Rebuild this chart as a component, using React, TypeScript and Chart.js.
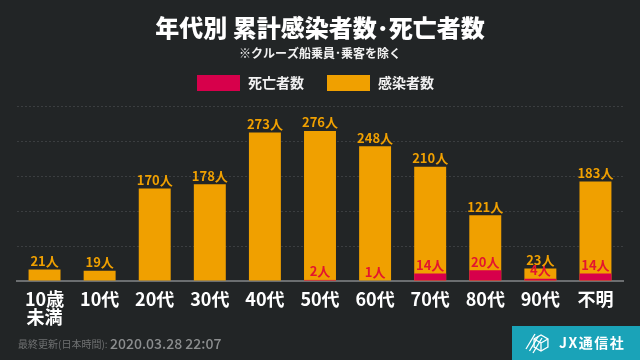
import React, { useEffect, useRef } from "react";
import { Chart, registerables } from "chart.js";

Chart.register(...registerables);

const TITLE = "年代別 累計感染者数･死亡者数";
const SUBTITLE = "※クルーズ船乗員･乗客を除く";
const CATEGORIES: (string | string[])[] = [["10歳", "未満"], "10代", "20代", "30代", "40代", "50代", "60代", "70代", "80代", "90代", "不明"];
const INFECTED = [21, 19, 170, 178, 273, 276, 248, 210, 121, 23, 183];
const DEATHS = [0, 0, 0, 0, 0, 2, 1, 14, 20, 4, 14];
const SERIES_NAMES = ["死亡者数", "感染者数"];
const Y_MAX = 320;
const Y_STEP = 64;
const UNIT = "人";
const FOOTER_LABEL = "最終更新(日本時間):";
const FOOTER_DATE = "2020.03.28 22:07";
const BRAND = "JX通信社";

const FONT = "'Noto Sans CJK JP', 'Noto Sans', sans-serif";
const BG = "#222526";
const ORANGE = "#f0a000";
const CRIMSON = "#d7004b";
const RED_TEXT = "#e3152e";
const TEAL = "#1aa3b8";

const decorPlugin = {
  id: "decor",
  beforeDraw(chart: any) {
    const ctx = chart.ctx;
    ctx.save();
    ctx.fillStyle = BG;
    ctx.fillRect(0, 0, chart.width, chart.height);
    ctx.restore();
  },
  afterDraw(chart: any) {
    const ctx = chart.ctx;
    ctx.save();
    // legend
    const ds = chart.data.datasets;
    ctx.font = `bold 14px ${FONT}`;
    const boxW = 43, boxH = 16, gapText = 8, gapItem = 23;
    const widths = ds.map((d: any) => boxW + gapText + ctx.measureText(d.label).width);
    const total = widths.reduce((a: number, b: number) => a + b, 0) + gapItem * (ds.length - 1);
    let x = 315.5 - total / 2;
    const cy = 83;
    ds.forEach((d: any, i: number) => {
      ctx.fillStyle = d.backgroundColor;
      ctx.fillRect(x, cy - boxH / 2, boxW, boxH);
      ctx.fillStyle = "#f2f2f2";
      ctx.textAlign = "left";
      ctx.textBaseline = "middle";
      ctx.fillText(d.label, x + boxW + gapText, cy);
      x += widths[i] + gapItem;
    });
    // footer
    ctx.fillStyle = "#6f7172";
    ctx.font = `10px ${FONT}`;
    ctx.textAlign = "left";
    ctx.textBaseline = "middle";
    ctx.fillText(FOOTER_LABEL, 18, 344);
    ctx.fillStyle = "#8c8e8f";
    ctx.font = `500 14px ${FONT}`;
    ctx.fillText(FOOTER_DATE, 110, 344);
    // brand block
    ctx.fillStyle = TEAL;
    ctx.fillRect(512, 326, 128, 34);
    ctx.strokeStyle = "#ffffff";
    ctx.lineWidth = 1.3;
    const hx = 541, hy = 343, r = 8;
    ctx.beginPath();
    for (let k = 0; k < 6; k++) {
      const a = Math.PI / 6 + (k * Math.PI) / 3;
      const px = hx + r * Math.cos(a), py = hy + r * Math.sin(a);
      if (k === 0) ctx.moveTo(px, py); else ctx.lineTo(px, py);
    }
    ctx.closePath();
    ctx.stroke();
    ctx.beginPath();
    ctx.moveTo(hx, hy);
    ctx.lineTo(hx - r * Math.cos(Math.PI / 6), hy - r / 2);
    ctx.moveTo(hx, hy);
    ctx.lineTo(hx, hy + r);
    ctx.moveTo(hx, hy);
    ctx.lineTo(hx + r * Math.cos(Math.PI / 6), hy - r / 2);
    ctx.stroke();
    for (let k = 0; k < 3; k++) {
      ctx.beginPath();
      ctx.moveTo(526 + k * 3.5, 349 + k * 2);
      ctx.lineTo(535 + k * 3.5, 334 + k * 2);
      ctx.stroke();
    }
    ctx.fillStyle = "#ffffff";
    ctx.font = `bold 14px ${FONT}`;
    ctx.textAlign = "left";
    ctx.textBaseline = "middle";
    try { (ctx as any).letterSpacing = "1.5px"; } catch (e) {}
    ctx.fillText(BRAND, 559, 343);
    ctx.restore();
  },
  afterDatasetsDraw(chart: any) {
    const ctx = chart.ctx;
    ctx.save();
    ctx.font = `bold 13px ${FONT}`;
    ctx.textAlign = "center";
    ctx.textBaseline = "middle";
    chart.data.datasets.forEach((d: any, di: number) => {
      const meta = chart.getDatasetMeta(di);
      meta.data.forEach((el: any, i: number) => {
        const v = d.data[i];
        if (!v) return;
        ctx.fillStyle = d.labelColor;
        ctx.fillText(`${v}${UNIT}`, el.x, el.y - 8.5);
      });
    });
    ctx.restore();
  },
};

export default function App() {
  const ref = useRef<HTMLCanvasElement>(null);
  useEffect(() => {
    if (!ref.current) return;
    const chart = new Chart(ref.current, {
      type: "bar",
      data: {
        labels: CATEGORIES as any,
        datasets: [
          {
            label: SERIES_NAMES[0],
            data: DEATHS,
            backgroundColor: CRIMSON,
            order: 0,
            grouped: false,
            barPercentage: 0.58,
            categoryPercentage: 1,
            labelColor: RED_TEXT,
          } as any,
          {
            label: SERIES_NAMES[1],
            data: INFECTED,
            backgroundColor: ORANGE,
            order: 1,
            grouped: false,
            barPercentage: 0.58,
            categoryPercentage: 1,
            labelColor: ORANGE,
          } as any,
        ],
      },
      options: {
        responsive: false,
        maintainAspectRatio: false,
        devicePixelRatio: 1,
        animation: false,
        layout: { padding: { top: 0, left: 17, right: 17, bottom: 0 } },
        plugins: {
          legend: { display: false },
          tooltip: { enabled: false },
          title: {
            display: true,
            text: TITLE,
            color: "#ffffff",
            font: { family: FONT, size: 24, weight: 900, lineHeight: 1.2 },
            padding: { top: 13, bottom: 0 },
          },
          subtitle: {
            display: true,
            text: SUBTITLE,
            color: "#f2f2f2",
            font: { family: FONT, size: 12, weight: "bold", lineHeight: 1.2 },
            padding: { top: 4, bottom: 46.8 },
          },
        },
        scales: {
          x: {
            grid: { display: false, drawTicks: false },
            border: { display: true, color: "#6b6e70", width: 2 },
            ticks: {
              color: "#ffffff",
              font: { family: FONT, size: 18, weight: "bold", lineHeight: 1 },
              padding: 9,
              maxRotation: 0,
              autoSkip: false,
            },
            afterFit: (s: any) => {
              s.height = 79;
            },
          },
          y: {
            min: 0,
            max: Y_MAX,
            ticks: { display: false, stepSize: Y_STEP },
            grid: { color: "#3b3e40", lineWidth: 1, drawTicks: false },
            border: { display: false, dash: [2, 2] },
            afterFit: (s: any) => {
              s.width = 0;
            },
          },
        },
      },
      plugins: [decorPlugin],
    });
    return () => chart.destroy();
  }, []);
  return (
    <div style={{ position: "fixed", left: 0, top: 0, width: 640, height: 360, background: BG }}>
      <canvas ref={ref} width={640} height={360} style={{ display: "block", width: 640, height: 360 }} />
    </div>
  );
}
